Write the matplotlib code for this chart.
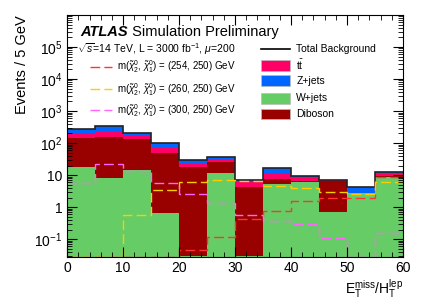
import matplotlib
matplotlib.use('Agg')

import numpy as np
import matplotlib.pyplot as plt
from matplotlib.patches import Rectangle
from matplotlib.lines import Line2D
from matplotlib.ticker import FixedLocator, FuncFormatter, MultipleLocator

plt.rcParams['font.family'] = ['Liberation Sans', 'DejaVu Sans']
plt.rcParams['mathtext.fontset'] = 'custom'
plt.rcParams['mathtext.rm'] = 'Liberation Sans'
plt.rcParams['mathtext.it'] = 'Liberation Sans:italic'
plt.rcParams['mathtext.bf'] = 'Liberation Sans:bold'

# bins de 5 GeV
bordes = np.arange(0, 65, 5)

# fondos (apilados de abajo hacia arriba)
wjets = [18, 7.9, 15, 0.66, 0.03, 11.8, 0.03, 5.2, 6.2, 0.71, 2.7, 8.9]
diboson = [122, 150, 116, 49, 18, 14, 4.3, 2.2, 0.5, 6.1, 0.02, 0.6]
ttbar = [69, 84, 47, 23, 5, 7, 2.4, 3.9, 1.2, 0.15, 0.02, 1.2]
zjets = [60, 105, 31, 29, 6, 4, 0.3, 5.7, 1.6, 0.05, 1.6, 2.0]

# señales (0.029 = pegado al borde inferior)
sig_254 = [0.029, 0.029, 0.029, 0.029, 0.048, 0.12, 0.42, 0.77, 1.57, 2.0, 1.95, 9.0]
sig_260 = [0.029, 0.029, 0.59, 3.4, 6.2, 7.0, 6.5, 4.5, 4.1, 3.0, 2.5, 6.2]
sig_300 = [5.7, 22, 13.3, 5.7, 2.5, 1.4, 0.59, 0.37, 0.31, 0.11, 0.029, 0.16]

# ticks mayores del eje y
ticks_y = [1e-1, 1, 10, 1e2, 1e3, 1e4, 1e5]

fig = plt.figure(figsize=(4.25, 3.06), dpi=100)
ax = fig.add_axes([0.158, 0.160, 0.790, 0.791])
ax.set_yscale('log')
ax.set_xlim(0, 60)
ax.set_ylim(0.028, 9.9e5)

fondos = [(wjets, '#66cc66'), (diboson, '#990000'), (ttbar, '#ff0066'), (zjets, '#0066ff')]
base = np.full(len(wjets), 1e-3)
for valores, color in fondos:
    arriba = base + np.array(valores)
    ax.stairs(arriba, bordes, baseline=base, fill=True, color=color, lw=0)
    base = arriba
ax.stairs(base, bordes, baseline=None, color='#222222', lw=1.2)

guion = (0, (7, 3))
ax.stairs(sig_254, bordes, baseline=None, color='#ff3333', lw=1.0, linestyle=guion)
ax.stairs(sig_260, bordes, baseline=None, color='#ffcc00', lw=1.0, linestyle=guion)
ax.stairs(sig_300, bordes, baseline=None, color='#ff66ff', lw=1.0, linestyle=guion)

# ejes estilo ATLAS
ax.xaxis.set_major_locator(MultipleLocator(10))
ax.xaxis.set_minor_locator(MultipleLocator(2))
ax.yaxis.set_major_locator(FixedLocator(ticks_y))
menores = [m * 10.0 ** e for e in range(-2, 6) for m in range(2, 10)]
menores = [v for v in menores if 0.028 < v < 9.9e5]
ax.yaxis.set_minor_locator(FixedLocator(menores))

def etiqueta_log(v, pos):
    e = int(round(np.log10(v)))
    if e == 0:
        return '1'
    if e == 1:
        return '10'
    return r'$10^{%d}$' % e if e > 0 else r'$10^{-%d}$' % -e

ax.yaxis.set_major_formatter(FuncFormatter(etiqueta_log))
ax.yaxis.set_minor_formatter(FuncFormatter(lambda v, p: ''))
ax.tick_params(which='both', direction='in', top=True, right=True, labelsize=10)
ax.tick_params(which='major', length=7)
ax.tick_params(which='minor', length=3.5)
ax.tick_params(axis='x', pad=3)

ax.set_ylabel('Events / 5 GeV', loc='top', fontsize=10.5)
ax.set_xlabel(r'E$_{\mathrm{T}}^{\mathrm{miss}}$/H$_{\mathrm{T}}^{\mathrm{lep}}$', loc='right', fontsize=10, labelpad=2)

# textos
t = ax.text(0.039, 0.930, 'ATLAS', transform=ax.transAxes, fontsize=10.5,
            fontweight='bold', style='italic', va='center')
ax.annotate(' Simulation Preliminary', xy=(1, 0), xycoords=t, va='bottom', fontsize=10.5)
ax.text(0.030, 0.860, r'$\sqrt{s}$=14 TeV, L = 3000 fb$^{-1}$, $\mu$=200',
        transform=ax.transAxes, fontsize=7.5, va='center')

etiquetas_sig = [r'm($\tilde{\chi}_2^0$, $\tilde{\chi}_1^0$) = (254, 250) GeV',
                 r'm($\tilde{\chi}_2^0$, $\tilde{\chi}_1^0$) = (260, 250) GeV',
                 r'm($\tilde{\chi}_2^0$, $\tilde{\chi}_1^0$) = (300, 250) GeV']
colores_sig = ['#ff3333', '#ffcc00', '#ff66ff']
for etiqueta, color, y in zip(etiquetas_sig, colores_sig, [0.786, 0.693, 0.607]):
    ax.add_line(Line2D([0.068, 0.134], [y, y], transform=ax.transAxes, color=color,
                       lw=1.0, linestyle=guion))
    ax.text(0.149, y, etiqueta, transform=ax.transAxes, fontsize=7, va='center')

ax.add_line(Line2D([0.577, 0.664], [0.860, 0.860], transform=ax.transAxes, color='black', lw=1.2))
ax.text(0.682, 0.860, 'Total Background', transform=ax.transAxes, fontsize=7.5, va='center')

etiquetas_fondo = [r't$\bar{\mathrm{t}}$', 'Z+jets', 'W+jets', 'Diboson']
colores_fondo = ['#ff0066', '#0066ff', '#66cc66', '#990000']
for etiqueta, color, y in zip(etiquetas_fondo, colores_fondo, [0.793, 0.729, 0.655, 0.591]):
    ax.add_patch(Rectangle((0.577, y - 0.0225), 0.087, 0.045, transform=ax.transAxes,
                           facecolor=color, edgecolor='#bbbbbb', lw=0.5))
    ax.text(0.682, y, etiqueta, transform=ax.transAxes, fontsize=7.5, va='center')

plt.savefig('out.png', dpi=100)
plt.close()
